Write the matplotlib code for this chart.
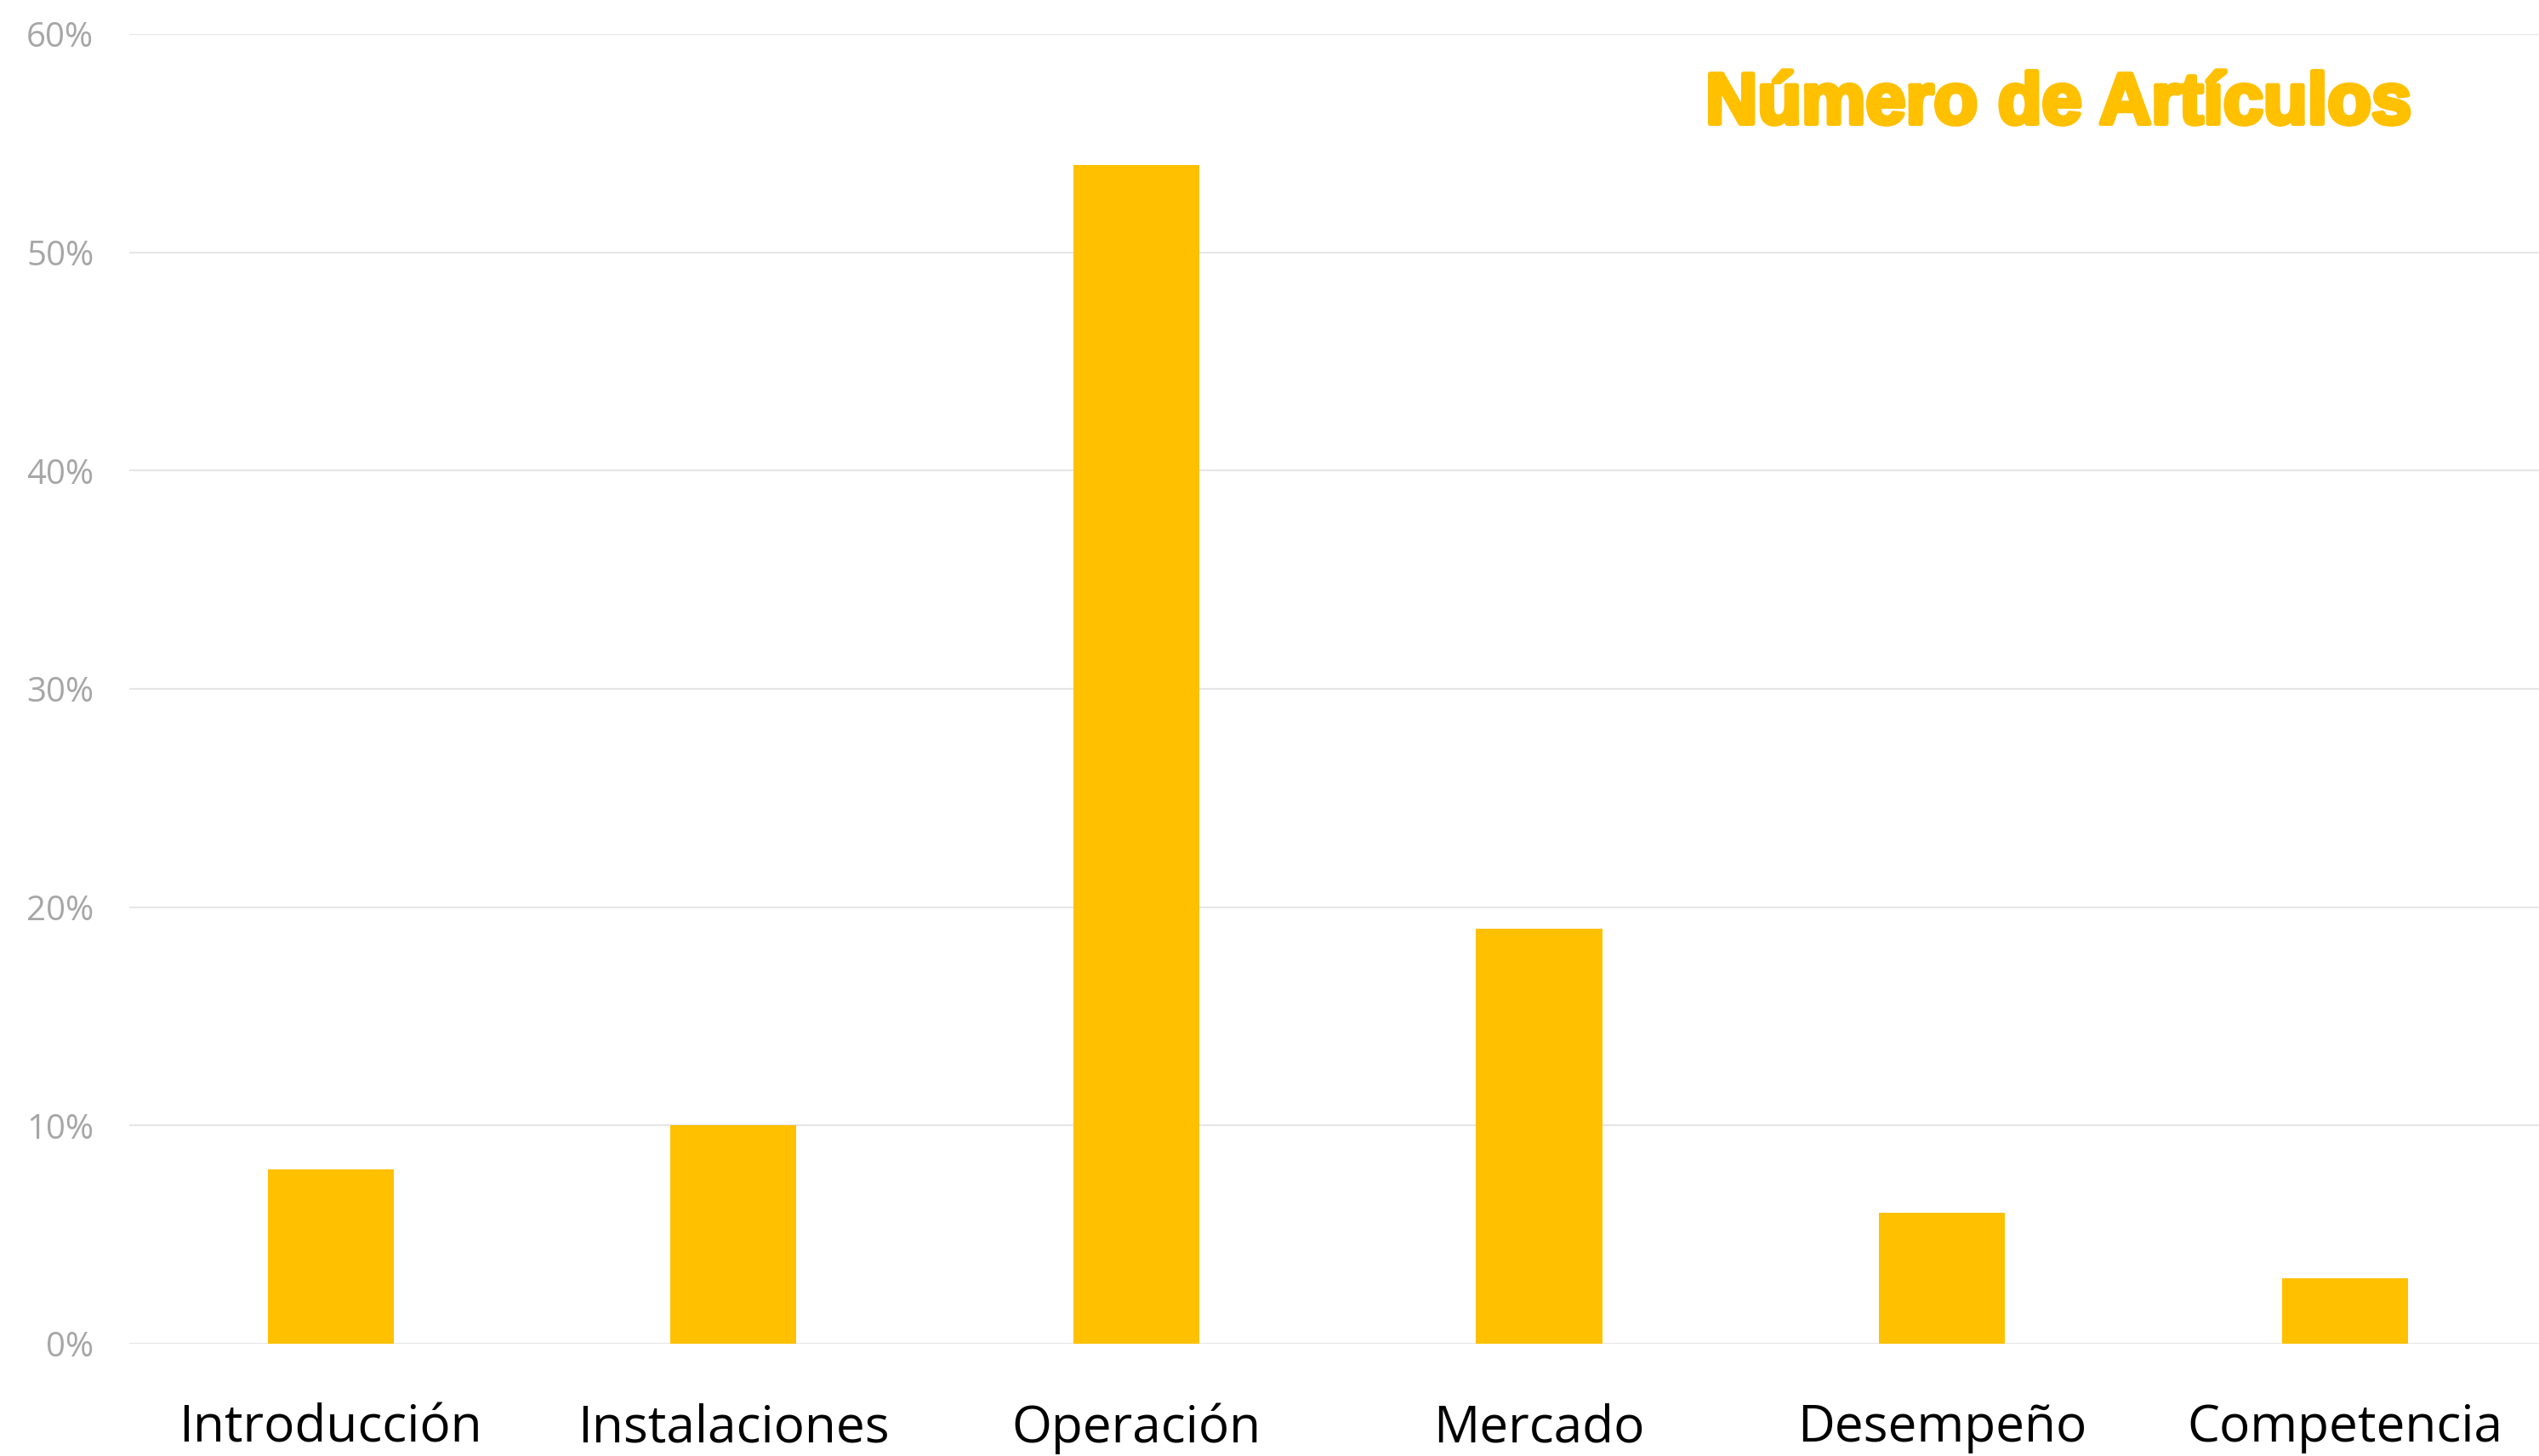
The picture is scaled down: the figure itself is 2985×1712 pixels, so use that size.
import matplotlib.pyplot as plt
import matplotlib.patheffects as pe
from matplotlib.ticker import PercentFormatter

categories = ['Introducción', 'Instalaciones', 'Operación', 'Mercado', 'Desempeño', 'Competencia']
values = [8, 10, 54, 19, 6, 3]
yticks = [0, 10, 20, 30, 40, 50, 60]

fig = plt.figure(figsize=(29.85, 17.12), dpi=100)
ax = fig.add_axes([0.0509, 0.0771, 0.952, 0.8995])

ax.bar(range(len(categories)), values, width=0.313, color='#FFC000', zorder=3)

ax.set_xlim(-0.5, len(categories) - 0.5)
ax.set_ylim(0, 60)
ax.set_yticks(yticks)
ax.yaxis.set_major_formatter(PercentFormatter(decimals=0))
ax.grid(axis='y', color='#E6E6E6', linewidth=1.5, zorder=0)
ax.set_xticks(range(len(categories)))
ax.set_xticklabels(categories, fontsize=43.5, family='Open Sans', color='black')
for lab in ax.get_yticklabels():
    lab.set_fontsize(29)
    lab.set_family('Open Sans')
    lab.set_color('#A6A6A6')
ax.tick_params(axis='both', length=0)
ax.tick_params(axis='x', pad=50)
ax.tick_params(axis='y', pad=30)
for s in ax.spines.values():
    s.set_visible(False)

# heavy title: bold font thickened with a stroke of the same colour
fig.text(0.8107, 0.928, 'Número de Artículos', ha='center', va='center',
         fontsize=61, fontweight='bold', family='Liberation Sans', color='#FFC000',
         path_effects=[pe.withStroke(linewidth=4, foreground='#FFC000')])

fig.savefig('out.png', dpi=100)
